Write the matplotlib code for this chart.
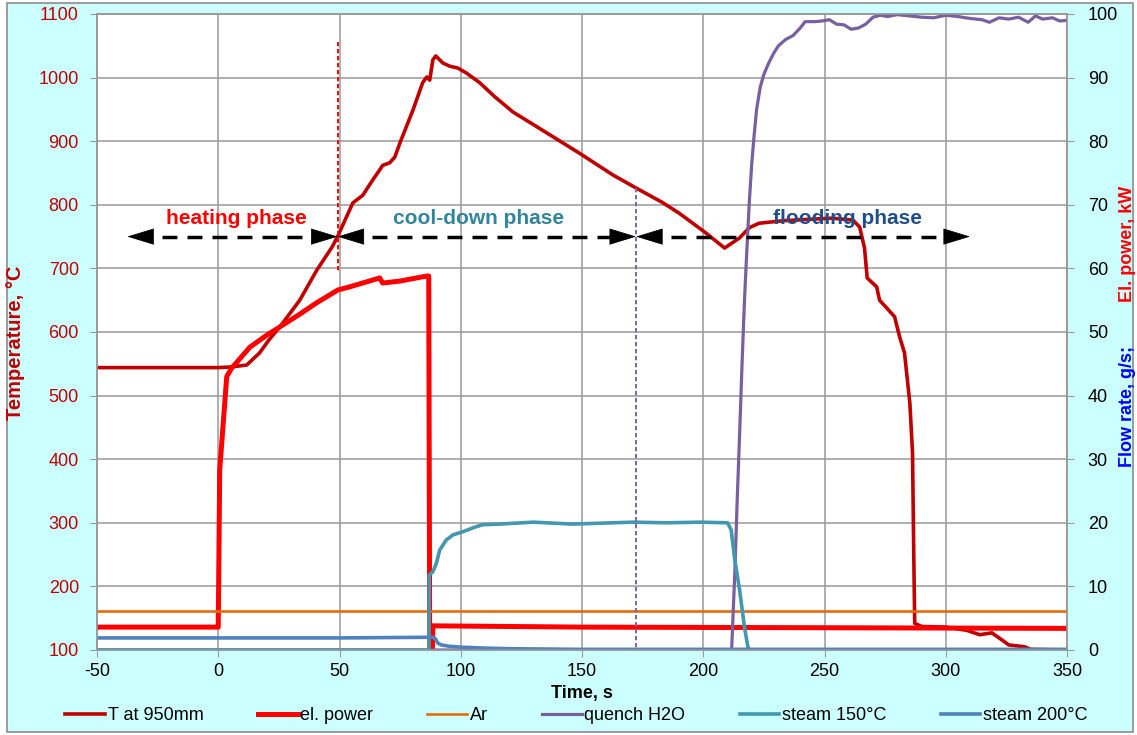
import matplotlib
matplotlib.use('Agg')
import matplotlib.pyplot as plt
from matplotlib.patches import Rectangle

plt.rcParams['font.family'] = ['Liberation Sans', 'DejaVu Sans']
plt.rcParams['axes.unicode_minus'] = False

# ---- data ----
# T at 950mm (left axis, degC)
t_temp = [-50, 0, 5, 11.7, 17, 21, 25.4, 33.6, 40.6, 47, 49.2, 55.5, 59.6, 63.7,
          66.6, 67.8, 70.7, 72.8, 75, 80.3, 84.3, 86, 87.2, 88.5, 89.7, 92.6, 95.4,
          98.8, 102.4, 107.8, 114, 121.5, 135.5, 149, 162.7, 172.5, 183, 190, 201, 208.8,
          215, 219, 223, 233, 253, 261.7, 264.5, 266.5, 267.6, 271.5, 272.7, 275.6,
          278.9, 281, 283, 285.2, 286.3, 286.8, 287.2, 290, 300, 308.6, 314, 319,
          322, 326, 332.6, 335, 350]
temp = [544, 544, 545, 548, 567, 588, 608, 650, 697, 734, 750, 803, 815, 839,
        855, 862, 866, 875, 898, 949, 992, 1001, 996, 1028, 1034, 1023, 1018,
        1015, 1007, 992, 970, 946, 913, 881, 847, 826, 804, 787, 756, 732,
        748, 764, 771, 775, 779, 776, 765, 732, 685, 671, 650, 638,
        624, 592, 567, 488, 410, 252, 142, 137, 136, 131, 124, 127,
        119, 108, 105, 101, 100]

# el. power (right axis, kW)
t_power = [-50, 0, 0.6, 3.5, 5.5, 13, 20, 25.4, 33.6, 40.6, 49.3, 54.2, 66.6, 67.8,
           74.8, 86, 86.8, 87.2, 88.3, 88.5, 150, 250, 350]
power = [3.6, 3.6, 28.3, 43, 44.3, 47.6, 49.5, 50.8, 52.8, 54.6, 56.6, 57.1, 58.5, 57.7,
         58.0, 58.8, 58.8, 0, 0, 3.8, 3.6, 3.5, 3.4]

# Ar (g/s)
t_ar = [-50, 350]
ar = [6.1, 6.1]

# quench H2O (g/s)
t_quench = [-50, 211.7, 213, 214, 215, 216, 217, 218, 219, 220, 221, 222, 223.5, 225,
            227, 229, 231, 234, 237, 240, 242, 246, 249, 252, 255, 258, 261, 264, 267,
            270, 273, 276, 280, 285, 290, 295, 300, 305, 310, 315, 318, 322, 326, 330,
            334, 337, 340, 344, 347, 350]
quench = [0, 0, 12, 23.6, 34, 45, 55, 63, 70.5, 76.5, 81, 85, 88.5, 90.5,
          92.3, 93.8, 95, 96, 96.6, 97.8, 98.8, 98.8, 98.9, 99.1, 98.4, 98.3, 97.6, 97.8, 98.4,
          99.5, 99.8, 99.6, 99.9, 99.7, 99.5, 99.4, 99.8, 99.6, 99.3, 99.1, 98.7, 99.4, 99.2, 99.5,
          98.7, 99.7, 99.2, 99.4, 98.9, 99.0]

# steam 150 degC (g/s)
t_s150 = [-50, 86.9, 87.0, 88.5, 90, 91.3, 94, 96.8, 100.9, 105, 109, 116, 130, 146,
          171, 185, 198.6, 210, 211.5, 213, 215, 217, 218.4, 219, 350]
s150 = [0, 0, 11.8, 12.3, 13.7, 15.7, 17.3, 18.1, 18.6, 19.2, 19.7, 19.8, 20.1, 19.8,
        20.1, 20.0, 20.1, 20.0, 18.9, 14.2, 9.4, 3.6, 0.5, 0, 0]

# steam 200 degC (g/s)
t_s200 = [-50, 0, 50, 86, 88.5, 89.5, 90.5, 92, 95, 100, 110, 120, 150, 350]
s200 = [1.9, 1.9, 1.9, 2.0, 2.0, 1.8, 1.1, 0.8, 0.6, 0.45, 0.3, 0.2, 0.1, 0.1]

# phases
phase_names = ['heating phase', 'cool-down phase', 'flooding phase']
phase_bounds = [-37.5, 49.2, 172.3, 310]
phase_text_x = [7.6, 107.2, 259.4]
phase_text_y = 778
arrow_level = 750

# ---- figure ----
fig = plt.figure(figsize=(11.37, 7.35), dpi=100)
fig.patch.set_facecolor('white')
fig.patches.append(Rectangle((7 / 1137, 3 / 735), 1126 / 1137, 729 / 735,
                             transform=fig.transFigure, facecolor='#CCFFFF',
                             edgecolor='#8C8C8C', lw=1.2, zorder=-10))

ax = fig.add_axes([97 / 1137, 1 - 650 / 735, 970 / 1137, 636 / 735])
ax.set_facecolor('white')
ax2 = ax.twinx()

grid_c = '#999999'
ax.set_xlim(-50, 350)
ax.set_ylim(100, 1100)
ax2.set_ylim(0, 100)
ax.set_xticks(range(-50, 351, 50))
ax.set_yticks(range(100, 1101, 100))
ax2.set_yticks(range(0, 101, 10))
ax.grid(True, color=grid_c, lw=1.1)
ax.set_axisbelow(True)

for a in (ax, ax2):
    for s in a.spines.values():
        s.set_color(grid_c)
        s.set_linewidth(1.1)
ax.tick_params(axis='both', direction='out', length=5, color=grid_c, labelsize=13)
ax.tick_params(axis='y', labelcolor='#C00000', pad=8)
ax.tick_params(axis='x', pad=4)
ax2.tick_params(axis='y', direction='out', length=5, color=grid_c, labelsize=13, pad=10)

# lines
l_T, = ax.plot(t_temp, temp, color='#C00000', lw=2.6, solid_joinstyle='round', label='T at 950mm')
l_P, = ax2.plot(t_power, power, color='#FF0000', lw=3.6, solid_joinstyle='round', label='el. power')
l_Ar, = ax2.plot(t_ar, ar, color='#E46C0A', lw=1.9, label='Ar')
l_Q, = ax2.plot(t_quench, quench, color='#76609E', lw=2.3, solid_joinstyle='round', label='quench H2O')
l_S1, = ax2.plot(t_s150, s150, color='#4397AE', lw=2.6, solid_joinstyle='round', label='steam 150°C')
l_S2, = ax2.plot(t_s200, s200, color='#4F81BD', lw=2.6, solid_joinstyle='round', label='steam 200°C')

# phase separators
ax2.plot([phase_bounds[1], phase_bounds[1]], [1056, 694], transform=ax.transData,
         color='#FF0000', lw=1.4, dashes=(2.2, 1.4), zorder=4)
ax2.plot([phase_bounds[2], phase_bounds[2]], [826, 100], transform=ax.transData,
         color='#8064A2', lw=1.4, dashes=(2.2, 1.4), zorder=4)

# phase arrows
colors_txt = ['#FF0000', '#31859C', '#1F4E8C']
for i in range(3):
    x0, x1 = phase_bounds[i], phase_bounds[i + 1]
    ax2.plot([x0 + 4, x1 - 4], [arrow_level, arrow_level], transform=ax.transData,
             color='black', lw=2.5, dashes=(4.3, 2.9), zorder=5)
    for tip, d in ((x0, -1), (x1, 1)):
        ax2.annotate('', xy=(tip, arrow_level), xytext=(tip - d * 5, arrow_level),
                     xycoords=ax.transData, textcoords=ax.transData,
                     arrowprops=dict(arrowstyle='-|>,head_length=1.8,head_width=0.55',
                                     color='black', lw=0.5, shrinkA=0, shrinkB=0),
                     zorder=6)
    ax2.text(phase_text_x[i], phase_text_y, phase_names[i], transform=ax.transData,
             ha='center', va='center', fontsize=15, fontweight='bold',
             color=colors_txt[i], zorder=7)

# axis labels
ax.set_xlabel('Time, s', fontsize=13, fontweight='bold')
ax.xaxis.set_label_coords(0.5, -0.055)
ax.set_ylabel('Temperature, °C', fontsize=14.5, fontweight='bold', color='#C00000')
ax.yaxis.set_label_coords(-0.074, 0.483)
ax2.text(1.062, 0.638, 'El. power, kW', transform=ax2.transAxes, rotation=90,
         ha='center', va='center', fontsize=13, fontweight='bold', color='#FF0000')
ax2.text(1.062, 0.383, 'Flow rate, g/s;', transform=ax2.transAxes, rotation=90,
         ha='center', va='center', fontsize=13, fontweight='bold', color='#0000FF')

fig.legend(handles=[l_T, l_P, l_Ar, l_Q, l_S1, l_S2], loc='center',
           bbox_to_anchor=(0.507, 0.026), ncol=6, frameon=False, fontsize=13,
           handlelength=2.2, handletextpad=0.15, columnspacing=3.0)

fig.savefig('out.png', dpi=100)
